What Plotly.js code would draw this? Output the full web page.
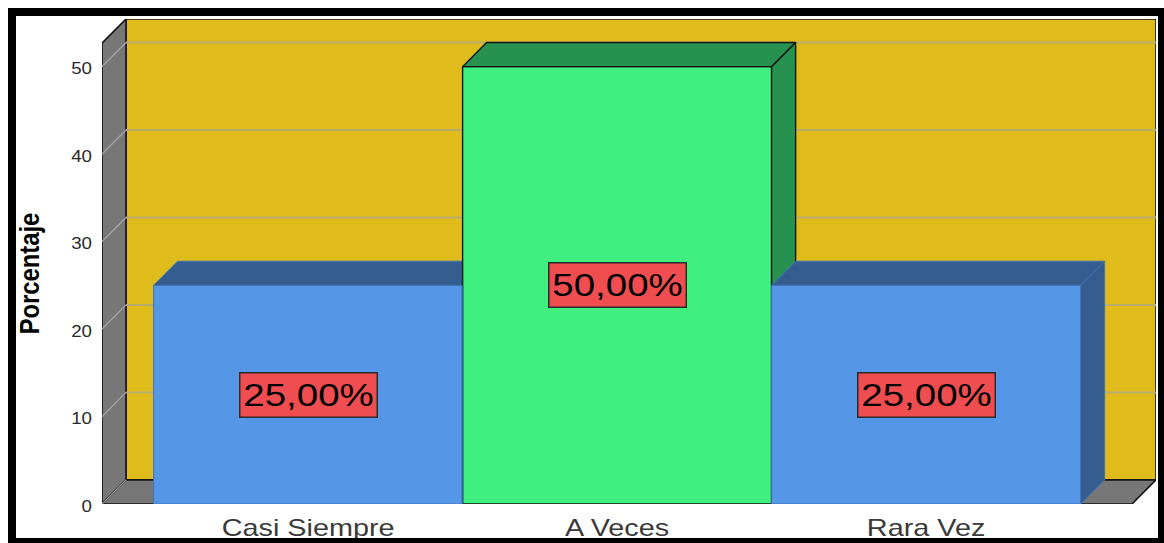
<!DOCTYPE html>
<html>
<head>
<meta charset="utf-8">
<script src="https://cdn.plot.ly/plotly-3.0.1.min.js"></script>
<style>html,body{margin:0;padding:0;background:#fff;overflow:hidden}</style>
</head>
<body>
<div id="chart" style="width:1164px;height:543px"></div>
<script>
// Survey answers, percentage of respondents
const categories = ['Casi Siempre', 'A Veces', 'Rara Vez'];
const percentages = [25, 50, 25];
const yTicks = [0, 10, 20, 30, 40, 50];
const yLabel = 'Porcentaje';

// Box depth of the pseudo-3D look, in axis units
const DEPTH_X = 0.0777;
const DEPTH_Y = 2.76;
const X_RANGE = [-0.667, 2.744];
const Y_RANGE = [0, 55.45];
const PLANE_LEFT = X_RANGE[0];
const PLANE_RIGHT = X_RANGE[1] - DEPTH_X;
const PLANE_TOP = Y_RANGE[1] - DEPTH_Y;

const W = 1164, H = 543;
const M = {l: 102, r: 8, t: 19, b: 39};

const YELLOW = '#e0bb1c', GREY = '#777777', EDGE = '#141414';
const BLUE = '#5596e6', BLUE_DARK = '#365d90', BLUE_EDGE = '#3f74b8';
const GREEN = '#41ee80', GREEN_DARK = '#27924f';
const RED = '#ef4d4f';
const GRID_WALL = '#b9ad6c', GRID_SIDE = '#a8a8a8';

function poly(xs, ys, fill, line, lineWidth, axes) {
  return {
    type: 'scatter', mode: 'lines', x: xs, y: ys, fill: 'toself', fillcolor: fill,
    line: {color: line, width: lineWidth}, cliponaxis: false, hoverinfo: 'skip',
    showlegend: false, xaxis: axes[0], yaxis: axes[1]
  };
}
function path(xs, ys, color, width, axes) {
  return {
    type: 'scatter', mode: 'lines', x: xs, y: ys, line: {color: color, width: width},
    cliponaxis: false, hoverinfo: 'skip', showlegend: false,
    xaxis: axes[0], yaxis: axes[1]
  };
}

// Walls and floor of the box
const base = ['x', 'y'];
const backL = PLANE_LEFT + DEPTH_X, backR = PLANE_RIGHT + DEPTH_X;
const traces = [
  poly([backL, backR, backR, backL, backL],
       [DEPTH_Y, DEPTH_Y, Y_RANGE[1], Y_RANGE[1], DEPTH_Y], YELLOW, EDGE, 1.6, base),
  poly([PLANE_LEFT, backL, backL, PLANE_LEFT, PLANE_LEFT],
       [0, DEPTH_Y, Y_RANGE[1], PLANE_TOP, 0], GREY, EDGE, 1.6, base),
  poly([PLANE_LEFT, PLANE_RIGHT, backR, backL, PLANE_LEFT],
       [0, 0, DEPTH_Y, DEPTH_Y, 0], GREY, EDGE, 1.6, base)
];

// Gridlines run along the side wall, then across the back wall
yTicks.forEach(v => {
  traces.push(path([PLANE_LEFT, backL], [v, v + DEPTH_Y], GRID_SIDE, 1.2, base));
  if (v > 0) traces.push(path([backL, backR], [v + DEPTH_Y, v + DEPTH_Y], GRID_WALL, 2, base));
});

// One bar: front face through a bar trace, top and side as polygons
function addBar(i, front, dark, edge, edgeWidth, axes) {
  const v = percentages[i];
  const l = i - 0.5, r = i + 0.5;
  traces.push(poly([l, r, r + DEPTH_X, l + DEPTH_X, l],
                   [v, v, v + DEPTH_Y, v + DEPTH_Y, v], dark, edge, edgeWidth, axes));
  traces.push(poly([r, r + DEPTH_X, r + DEPTH_X, r, r],
                   [0, DEPTH_Y, v + DEPTH_Y, v, 0], dark, edge, edgeWidth, axes));
  traces.push({
    type: 'bar', x: [i], y: [v], width: [1], marker: {color: front, line: {color: edge, width: edgeWidth}},
    hoverinfo: 'skip', showlegend: false, xaxis: axes[0], yaxis: axes[1]
  });
}
// Painted left to right so the last blue bar hides the foot of the green side
addBar(0, BLUE, BLUE_DARK, BLUE_EDGE, 1, ['x2', 'y2']);
addBar(1, GREEN, GREEN_DARK, EDGE, 1.4, ['x3', 'y3']);
addBar(2, BLUE, BLUE_DARK, BLUE_EDGE, 1, ['x4', 'y4']);

// Where the first blue bar meets the green one, and the ground line below the bars
traces.push(path([0.5, 0.5], [0, percentages[0]], '#2f5f95', 1.4, ['x4', 'y4']));
traces.push(path([-0.5, 2.5], [-0.17, -0.17], '#adadad', 1.5, ['x4', 'y4']));

// Pixel helpers for the outer frame
const px = p => (p - M.l) / (W - M.l - M.r);
const py = p => 1 - (p - M.t) / (H - M.t - M.b);

const hiddenX = () => ({range: X_RANGE, overlaying: 'x', visible: false, fixedrange: true});
const hiddenY = () => ({range: Y_RANGE, overlaying: 'y', visible: false, fixedrange: true});

const layout = {
  width: W, height: H, margin: M, paper_bgcolor: '#fff', plot_bgcolor: '#fff',
  showlegend: false, bargap: 0,
  font: {family: '"Liberation Sans", Arial, sans-serif', color: '#222'},
  xaxis: {
    range: X_RANGE, tickmode: 'array', tickvals: categories.map((c, i) => i), ticktext: categories,
    showgrid: false, zeroline: false, showline: false, ticks: '',
    tickfont: {size: 24, color: '#3a3a3a'}, ticklabelstandoff: 7, fixedrange: true
  },
  yaxis: {
    range: Y_RANGE, tickmode: 'array', tickvals: yTicks, ticktext: yTicks.map(String),
    showgrid: false, zeroline: false, showline: false, ticks: '',
    tickfont: {size: 16, color: '#2a2a2a'}, ticklabelstandoff: 9, fixedrange: true,
    title: {text: yLabel, font: {size: 28, color: '#000', family: '"Liberation Sans Narrow", "Liberation Sans", Arial, sans-serif', weight: 'bold'}, standoff: 30}
  },
  xaxis2: hiddenX(), yaxis2: hiddenY(),
  xaxis3: hiddenX(), yaxis3: hiddenY(),
  xaxis4: hiddenX(), yaxis4: hiddenY(),
  annotations: percentages.map((v, i) => ({
    x: i, y: v / 2, xref: 'x', yref: 'y', xanchor: 'center', yanchor: 'middle',
    text: v.toFixed(2).replace('.', ',') + '%', showarrow: false,
    font: {size: 31, color: '#000'}, bgcolor: RED, bordercolor: '#2b2b2b', borderwidth: 1.5,
    width: 134, height: 41
  })),
  shapes: [{
    type: 'rect', xref: 'paper', yref: 'paper',
    x0: px(12), x1: px(1162), y0: py(12), y1: py(542),
    line: {color: '#000', width: 8}, fillcolor: 'rgba(0,0,0,0)', layer: 'above'
  }]
};

// The labels are set wide: stretch each text horizontally by a factor
function widen(selector, factor) {
  document.querySelectorAll(selector).forEach(t => {
    t.setAttribute('textLength', (t.getComputedTextLength() * factor).toFixed(1));
    t.setAttribute('lengthAdjust', 'spacingAndGlyphs');
  });
}

Plotly.newPlot('chart', traces, layout, {staticPlot: true, displayModeBar: false}).then(() => {
  widen('.xtick text', 1.2);
  widen('.ytick text', 1.17);
  widen('.annotation-text', 1.24);
  widen('.ytitle', 0.85);
  // Nudge the y labels and title to sit beside the box's front plane
  document.querySelector('.yaxislayer-above').setAttribute('transform', 'translate(0,2)');
  document.querySelector('.g-ytitle').setAttribute('transform', 'translate(4,12)');
});
</script>
</body>
</html>
